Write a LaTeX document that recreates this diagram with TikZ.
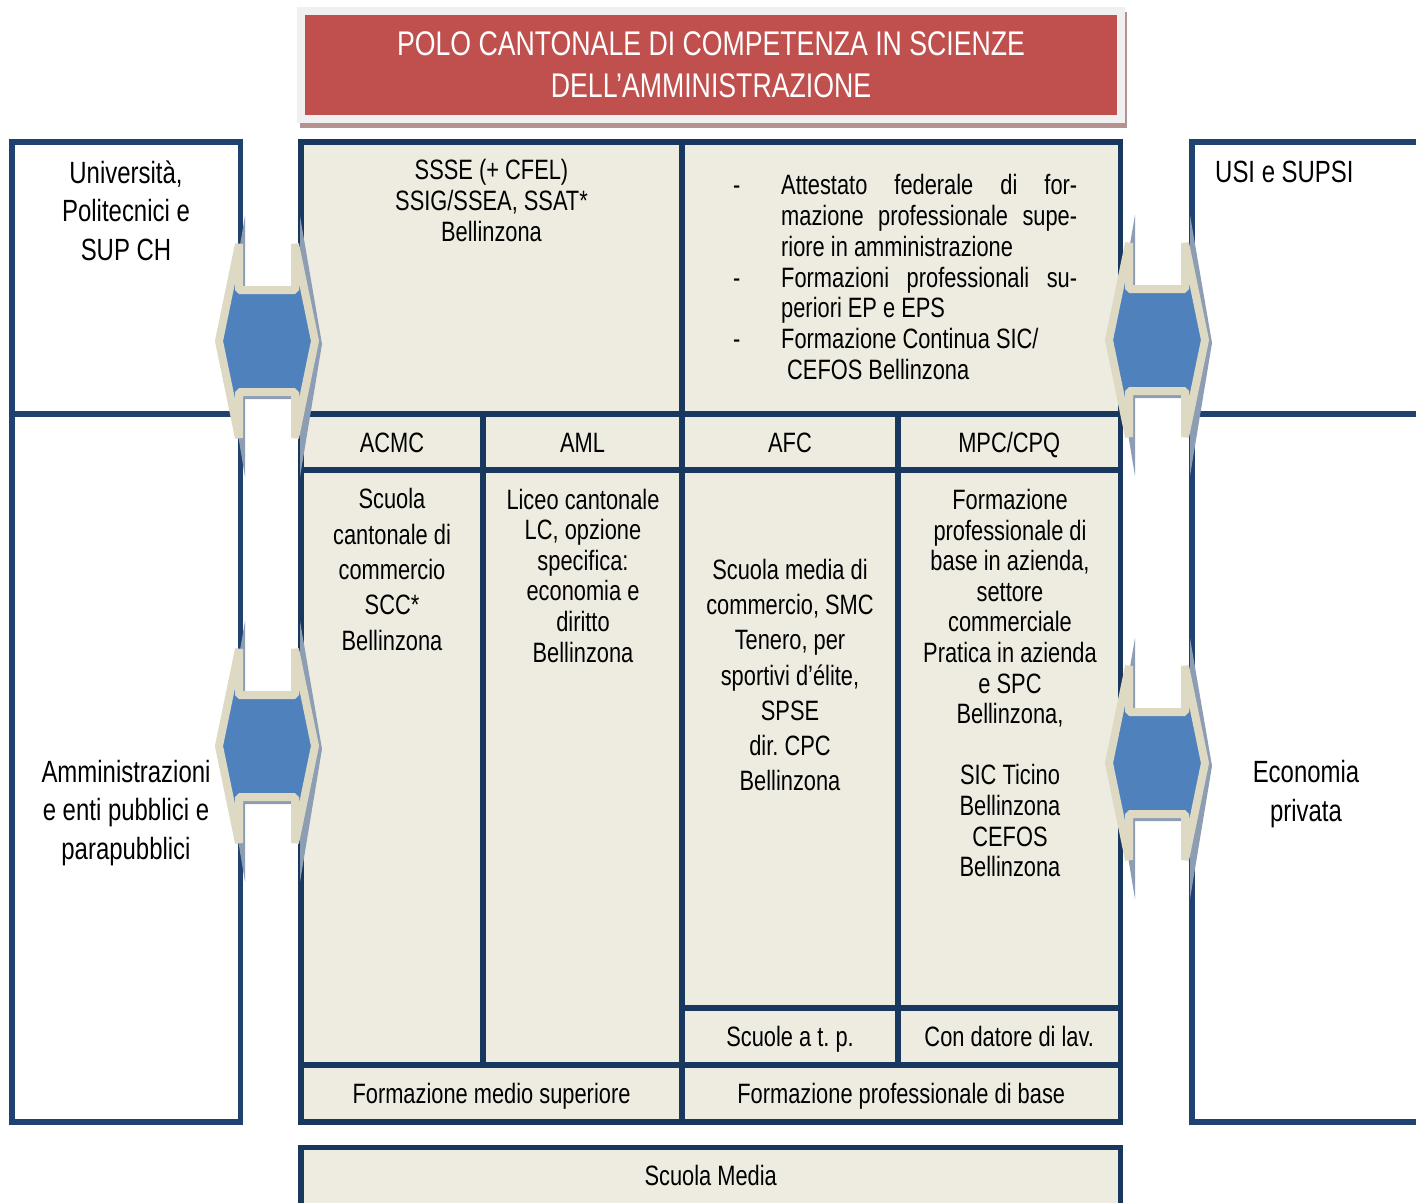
\documentclass[tikz,border=0pt]{standalone}
\usepackage{fontspec}
\setmainfont{Liberation Sans}[FakeStretch=0.78]
\frenchspacing

\definecolor{navy}{RGB}{24,56,96}
\definecolor{outerblue}{RGB}{31,66,112}
\definecolor{cream}{RGB}{238,236,225}
\definecolor{titlered}{RGB}{192,80,77}
\definecolor{titleframe}{RGB}{240,240,240}
\definecolor{titleshadow}{RGB}{180,146,146}
\definecolor{arrowblue}{RGB}{79,129,189}
\definecolor{arrowbeige}{RGB}{221,217,195}
\definecolor{arrowgrey}{RGB}{141,157,180}

% justified line of the list in the upper right cell
\newcommand{\jline}[1]{\makebox[296pt][s]{#1}}
\newcommand{\dashcol}{\makebox[48pt][l]{-}}
\newcommand{\nodash}{\hspace*{48pt}}

\tikzset{
    cell/.style 2 args={draw=navy, fill=cream, line width=5.5pt,
        minimum width=#1, minimum height=#2, inner sep=0pt,
        text height=20pt, text depth=0pt,
        font=\fontsize{28}{30.6}\selectfont},
    outerbox/.style 2 args={draw=outerblue, fill=white, line width=5.5pt,
        minimum width=#1, minimum height=#2, inner sep=0pt},
    txt/.style={align=center, inner sep=0pt, font=\fontsize{28}{30.6}\selectfont},
    widetxt/.style={txt, font=\fontsize{28}{35.3}\selectfont},
    bigtxt/.style={align=center, inner sep=0pt, font=\fontsize{30.7}{38.5}\selectfont},
    arrowshadow/.style={fill=arrowgrey},
    arrowbody/.style={draw=arrowbeige, fill=arrowblue, line width=8pt, line join=bevel},
    linkarrow/.pic={
        \fill[arrowshadow] (-44,3) -- (-22,-125) -- (-22,-45) -- (33,-45) -- (33,-125)
            -- (55,3) -- (33,136) -- (33,58) -- (-22,58) -- (-22,136) -- cycle;
        \draw[arrowbody] (-48,0) -- (-28,-97) -- (-28,-51) -- (28,-51) -- (28,-97)
            -- (48,0) -- (28,97) -- (28,51) -- (-28,51) -- (-28,97) -- cycle;
    }
}

\begin{document}
\frenchspacing
\begin{tikzpicture}[x=1pt, y=-1pt]
        \useasboundingbox (0,0) rectangle (1416,1202);
        \clip (0,0) rectangle (1416,1202);
        \fill[white] (0,0) rectangle (1416,1202);

        %%%%%%%%%%%%%%%%%%%%%%%%%%%%%%%%%%%%%%%%%%%%
        % Title
        %%%%%%%%%%%%%%%%%%%%%%%%%%%%%%%%%%%%%%%%%%%%
        \node [fill=titleshadow, minimum width=827pt, minimum height=116pt] (title-shadow) at (713.5,70) {};
        \node [fill=titleframe, minimum width=828pt, minimum height=116pt] (title-frame) at (711,65) {};
        \node [fill=titlered, minimum width=812pt, minimum height=100pt, inner sep=0pt,
            align=center, text=white, font=\fontsize{34.2}{42}\selectfont] (title) at (711,65)
            {POLO CANTONALE DI COMPETENZA IN SCIENZE\\DELL’AMMINISTRAZIONE};

        %%%%%%%%%%%%%%%%%%%%%%%%%%%%%%%%%%%%%%%%%%%%
        % Outer boxes
        %%%%%%%%%%%%%%%%%%%%%%%%%%%%%%%%%%%%%%%%%%%%
        \node [outerbox={228.5pt}{272pt}] (univ) at (126.25,278) {};
        \node [outerbox={228.5pt}{708pt}] (amm) at (126.25,768) {};
        \node [outerbox={230pt}{272pt}] (usi) at (1307,278) {};
        \node [outerbox={230pt}{708pt}] (eco) at (1307,768) {};

        \node [bigtxt] (univ-text) at (126,210.5) {Università,\\Politecnici e\\SUP CH};
        \node [bigtxt] (amm-text) at (126,813) {Amministrazioni\\e enti pubblici e\\parapubblici};
        \node [bigtxt, anchor=west] (usi-text) at (1215,172) {USI e SUPSI};
        \node [bigtxt] (eco-text) at (1306,794) {Economia\\privata};

        %%%%%%%%%%%%%%%%%%%%%%%%%%%%%%%%%%%%%%%%%%%%
        % Upper cells
        %%%%%%%%%%%%%%%%%%%%%%%%%%%%%%%%%%%%%%%%%%%%
        \node [cell={381pt}{272pt}] (ssse) at (491.5,278) {};
        \node [cell={438.5pt}{272pt}] (afp) at (901.25,278) {};

        \node [txt] (ssse-text) at (491.5,200.5) {SSSE (+ CFEL)\\SSIG/SSEA, SSAT*\\Bellinzona};
        \node [txt, anchor=west, align=left, text width=344pt,
            font=\fontsize{28}{30.7}\selectfont] (afp-text) at (733,277) {%
            \spaceskip=0pt\xspaceskip=0pt
            \dashcol\jline{Attestato federale di for-}\\
            \nodash\jline{mazione professionale supe-}\\
            \nodash riore in amministrazione\\
            \dashcol\jline{Formazioni professionali su-}\\
            \nodash periori EP e EPS\\
            \dashcol Formazione Continua SIC/\\
            \hspace*{54pt}CEFOS Bellinzona};

        %%%%%%%%%%%%%%%%%%%%%%%%%%%%%%%%%%%%%%%%%%%%
        % Columns
        %%%%%%%%%%%%%%%%%%%%%%%%%%%%%%%%%%%%%%%%%%%%

        % Headers
        \foreach \n/\x/\w/\l in {acmc/392/182/ACMC, aml/582.5/199/AML,
                afc/790/216/AFC, mpc/1009.25/222.5/MPC\slash CPQ}
            \node [cell={\w pt}{56pt}] (\n) at (\x,442) {\l};

        % Bodies
        \node [cell={182pt}{595pt}] (col-acmc) at (392,767.5) {};
        \node [cell={199pt}{595pt}] (col-aml) at (582.5,767.5) {};
        \node [cell={216pt}{538pt}] (col-afc) at (790,739) {};
        \node [cell={222.5pt}{538pt}] (col-mpc) at (1009.25,739) {};

        \node [widetxt] (acmc-text) at (392,569.5)
            {Scuola\\cantonale di\\commercio\\SCC*\\Bellinzona};
        \node [txt] (aml-text) at (583,575.5)
            {Liceo cantonale\\LC, opzione\\specifica:\\economia e\\diritto\\Bellinzona};
        \node [widetxt] (afc-text) at (790,675)
            {Scuola media di\\commercio, SMC\\Tenero, per\\sportivi d’élite,\\SPSE\\dir. CPC\\Bellinzona};
        \node [txt] (mpc-text) at (1010,683)
            {Formazione\\professionale di\\base in azienda,\\settore\\commerciale\\Pratica in azienda\\e SPC\\Bellinzona,\\[30.6pt]SIC Ticino\\Bellinzona\\CEFOS\\Bellinzona};

        % Footers
        \node [cell={216pt}{57pt}] (tp) at (790,1036.5) {Scuole a t. p.};
        \node [cell={222.5pt}{57pt}] (datore) at (1009.25,1036.5) {Con datore di lav.};
        \node [cell={381pt}{57pt}] (fms) at (491.5,1093.5) {Formazione medio superiore};
        \node [cell={438.5pt}{57pt}] (fpb) at (901.25,1093.5) {Formazione professionale di base};

        %%%%%%%%%%%%%%%%%%%%%%%%%%%%%%%%%%%%%%%%%%%%
        % Scuola Media
        %%%%%%%%%%%%%%%%%%%%%%%%%%%%%%%%%%%%%%%%%%%%
        \node [cell={819.5pt}{60pt}, text depth=5pt] (media) at (710.75,1177.5) {Scuola Media};

        %%%%%%%%%%%%%%%%%%%%%%%%%%%%%%%%%%%%%%%%%%%%
        % Double arrows
        %%%%%%%%%%%%%%%%%%%%%%%%%%%%%%%%%%%%%%%%%%%%
        \foreach \x/\y in {267/341, 267/746, 1157/340, 1157/763}
            \pic at (\x,\y) {linkarrow};
\end{tikzpicture}
\end{document}
